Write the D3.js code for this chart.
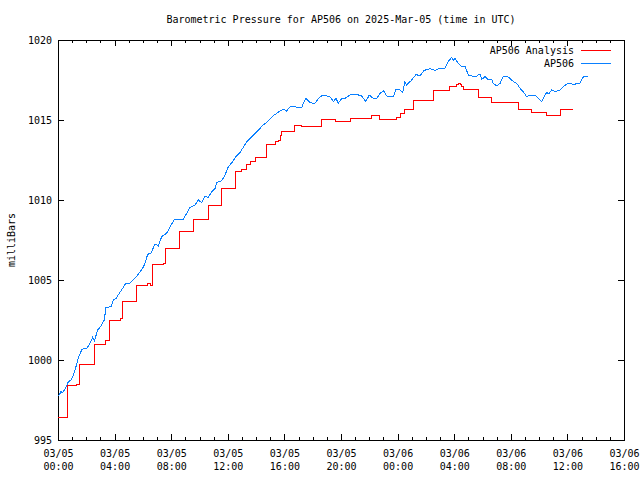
<!DOCTYPE html>
<html><head><meta charset="utf-8">
<script src="https://cdn.jsdelivr.net/npm/d3@7"></script>
<style>body{margin:0;background:#fff} text{font-family:"DejaVu Sans Mono",monospace;font-size:10px;fill:#000}</style>
</head><body>
<svg id="c" width="640" height="480"></svg>
<script>
// ---- data (hours since 2025-03-05 00:00 UTC, millibars) ----
const titleText = "Barometric Pressure for AP506 on 2025-Mar-05 (time in UTC)";
const yLabelText = "milliBars";
const seriesNames = ["AP506 Analysis", "AP506"];
const yTickValues = [995, 1000, 1005, 1010, 1015, 1020];

const analysisHours = [0,0.64,1.32,1.55,2.57,3.34,3.63,4.40,4.57,5.58,6.29,6.57,6.68,7.44,7.61,8.62,9.56,10.62,11.57,12.51,12.98,13.34,13.57,13.99,14.75,15.34,15.57,15.69,15.81,16.68,17.22,18.64,19.58,20.64,22.17,22.71,23.94,24.17,24.52,25.11,26.52,27.65,28.17,28.29,28.41,28.53,28.64,29.70,30.65,32.53,33.46,34.52,35.51,36.37];
const analysisValues = [996.42,998.4,998.5,999.7,1001.0,1001.25,1002.5,1002.6,1003.64,1004.64,1004.8,1004.64,1005.94,1006.04,1007.0,1008.06,1008.79,1009.67,1010.69,1011.77,1011.92,1012.23,1012.4,1012.67,1013.48,1013.65,1013.69,1014.06,1014.27,1014.67,1014.6,1015.04,1014.92,1015.1,1015.31,1015.06,1015.14,1015.42,1015.67,1016.25,1016.83,1017.08,1017.2,1017.3,1017.2,1017.08,1016.88,1016.42,1016.1,1015.67,1015.46,1015.29,1015.63,1015.63];

const stationHours = [0.05,0.21,0.33,0.45,0.57,0.73,0.92,1.08,1.27,1.46,1.70,2.03,2.21,2.45,2.57,2.81,3.04,3.27,3.39,3.75,3.91,4.10,4.33,4.57,4.76,5.04,5.28,5.63,5.94,6.10,6.34,6.57,6.86,7.09,7.33,7.68,7.92,8.20,8.86,9.10,9.33,9.68,9.92,10.16,10.39,10.62,10.86,11.10,11.22,11.57,11.80,12.04,12.28,12.58,12.86,13.34,13.57,14.04,14.51,14.86,15.27,15.69,15.92,16.16,16.40,16.75,16.98,17.22,17.34,17.53,17.81,18.16,18.40,18.71,18.99,19.22,19.46,19.65,19.81,20.05,20.28,20.64,21.11,21.46,21.75,22.00,22.28,22.52,22.76,23.04,23.23,23.70,23.89,24.17,24.36,24.52,24.64,25.00,25.30,25.58,25.87,26.29,26.64,27.00,27.35,27.58,27.82,27.94,28.06,28.29,28.53,28.76,29.00,29.24,29.59,29.82,29.94,30.18,30.41,30.65,30.76,31.00,31.24,31.47,31.71,31.94,32.18,32.42,32.65,32.88,33.12,33.36,33.71,33.94,34.18,34.42,34.54,34.70,34.89,35.12,35.48,35.76,36.06,36.42,36.89,37.13,37.48];
const stationValues = [997.77,998.02,997.96,998.13,998.33,998.64,998.75,999.06,999.58,1000.2,1000.67,1000.73,1000.94,1001.42,1001.2,1001.88,1002.13,1002.5,1003.29,1003.33,1003.75,1003.85,1004.17,1004.48,1004.75,1004.79,1004.96,1005.31,1005.67,1005.94,1006.6,1006.69,1007.25,1007.13,1007.71,1007.92,1008.33,1008.75,1008.81,1009.17,1009.54,1009.69,1010.0,1009.83,1010.25,1010.15,1010.52,1010.73,1011.1,1011.21,1011.56,1012.08,1012.33,1012.71,1012.96,1013.65,1013.85,1014.27,1014.69,1014.94,1015.3,1015.56,1015.67,1015.56,1015.83,1015.83,1015.77,1015.77,1016.04,1016.35,1016.08,1016.04,1016.35,1016.56,1016.5,1016.46,1016.15,1016.35,1016.04,1016.35,1016.35,1016.56,1016.6,1016.5,1016.15,1016.56,1016.35,1016.35,1016.67,1016.83,1016.5,1016.46,1016.92,1016.88,1016.71,1017.4,1017.19,1017.5,1017.85,1017.75,1018.1,1018.2,1018.1,1018.23,1018.23,1018.65,1018.92,1018.75,1018.85,1018.54,1018.33,1018.38,1017.8,1017.75,1017.75,1017.88,1017.54,1017.71,1017.5,1017.54,1017.29,1017.13,1017.29,1017.71,1017.75,1017.6,1017.4,1017.29,1016.98,1016.77,1016.46,1016.56,1016.56,1016.35,1016.15,1016.56,1016.71,1016.65,1016.88,1016.77,1016.88,1017.13,1017.29,1017.23,1017.29,1017.71,1017.71];

const xStartHour = 0, xEndHour = 40;
const colors = ["#ff0000", "#0a80ff"];

// ---- chart ----
const svg = d3.select("#c");
const L = 58, R = 624, T = 40, B = 440;
const start = Date.UTC(2025, 2, 5, 0, 0);
const toDate = h => new Date(start + h * 3600e3);

const x = d3.scaleUtc().domain([toDate(xStartHour), toDate(xEndHour)]).range([L, R]);
const y = d3.scaleLinear().domain([995, 1020]).range([B, T]);

const majorTicks = d3.utcHour.every(4).range(toDate(xStartHour), toDate(xEndHour + 0.01));
const minorTicks = d3.utcHour.every(1).range(toDate(xStartHour), toDate(xEndHour + 0.01));

function clean(g){ g.select(".domain").remove(); g.selectAll(".tick line").attr("stroke","#000").attr("shape-rendering","crispEdges"); }

svg.append("g").attr("transform",`translate(0,${B})`)
  .call(d3.axisBottom(x).tickValues(minorTicks).tickSizeInner(-3).tickSizeOuter(0).tickFormat(""))
  .call(clean);
svg.append("g").attr("transform",`translate(0,${T})`)
  .call(d3.axisTop(x).tickValues(minorTicks).tickSizeInner(-3).tickSizeOuter(0).tickFormat(""))
  .call(clean);
const fmtD = d3.utcFormat("%m/%d"), fmtT = d3.utcFormat("%H:%M");
const bx = svg.append("g").attr("transform",`translate(0,${B})`)
  .call(d3.axisBottom(x).tickValues(majorTicks).tickSizeInner(-6).tickSizeOuter(0).tickFormat(""))
  .call(clean);
bx.selectAll(".tick text").remove();
bx.selectAll(".tick").each(function(d){
  const t = d3.select(this).append("text").attr("text-anchor","middle").attr("y",17);
  t.append("tspan").attr("x",0).text(fmtD(d));
  t.append("tspan").attr("x",0).attr("dy",13).text(fmtT(d));
});
svg.append("g").attr("transform",`translate(0,${T})`)
  .call(d3.axisTop(x).tickValues(majorTicks).tickSizeInner(-6).tickSizeOuter(0).tickFormat(""))
  .call(clean);

const ly = svg.append("g").attr("transform",`translate(${L},0)`)
  .call(d3.axisLeft(y).tickValues(yTickValues).tickSizeInner(-6).tickSizeOuter(0).tickPadding(6).tickFormat(d3.format("d")))
  .call(clean);
ly.selectAll(".tick text").attr("fill","#000").style("font-family",'"DejaVu Sans Mono",monospace').style("font-size","10px");
svg.append("g").attr("transform",`translate(${R},0)`)
  .call(d3.axisRight(y).tickValues(yTickValues).tickSizeInner(-6).tickSizeOuter(0).tickFormat(""))
  .call(clean);

svg.append("rect").attr("x",L+0.5).attr("y",T+0.5).attr("width",R-L).attr("height",B-T)
  .attr("fill","none").attr("stroke","#000").attr("stroke-width",1).attr("shape-rendering","crispEdges");

const analysis = analysisHours.map((h,i)=>({t:toDate(h), v:analysisValues[i]}));
const station = stationHours.map((h,i)=>({t:toDate(h), v:stationValues[i]}));
const stepLine = d3.line().x(d=>x(d.t)).y(d=>y(d.v)).curve(d3.curveStepAfter);
const line = d3.line().x(d=>x(d.t)).y(d=>y(d.v));
svg.append("path").datum(analysis).attr("d",stepLine).attr("fill","none").attr("stroke",colors[0]).attr("stroke-width",1).attr("shape-rendering","crispEdges");
svg.append("path").datum(station).attr("d",line).attr("fill","none").attr("stroke",colors[1]).attr("stroke-width",1).attr("shape-rendering","crispEdges");

svg.append("text").attr("x",(L+R)/2).attr("y",23).attr("text-anchor","middle").text(titleText);
svg.append("text").attr("transform","translate(15,240) rotate(-90)").attr("text-anchor","middle").text(yLabelText);

seriesNames.forEach((n,i)=>{
  const yy = 50 + i*13;
  svg.append("text").attr("x",574).attr("y",yy+4).attr("text-anchor","end").text(n);
  svg.append("line").attr("x1",581).attr("x2",611).attr("y1",yy+0.5).attr("y2",yy+0.5)
    .attr("stroke",colors[i]).attr("stroke-width",1).attr("shape-rendering","crispEdges");
});
</script>
</body></html>
